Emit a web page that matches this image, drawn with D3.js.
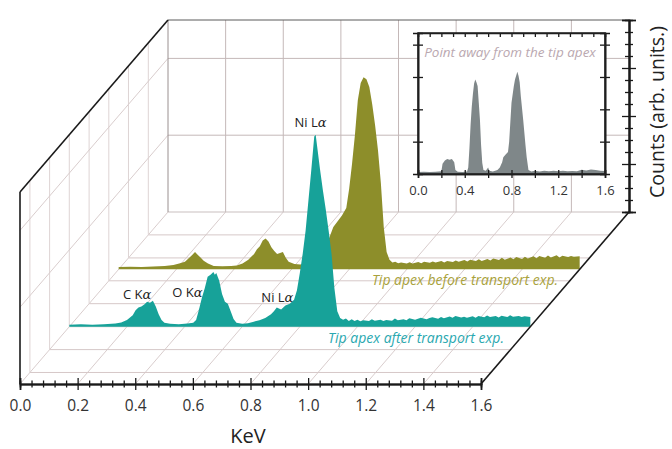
<!DOCTYPE html>
<html>
<head>
<meta charset="utf-8">
<script src="https://cdn.jsdelivr.net/npm/d3@7"></script>
<style>
  body { margin: 0; background: #fff; }
  svg { display: block; font-family: "Open Sans", sans-serif; }
</style>
</head>
<body>
<svg id="chart" width="672" height="449"></svg>
<script>
// EDX spectra, [energy keV, counts %]
const afterSpectrum = [
  [0.00,1.0],[0.04,1.2],[0.08,1.0],[0.12,1.3],[0.16,1.6],[0.18,2.2],[0.20,3.5],[0.22,6],[0.23,8.5],[0.24,10],
  [0.25,10.5],[0.26,11.5],[0.27,13],[0.28,12.5],[0.29,13.5],[0.30,10.5],[0.31,6.5],[0.32,3.5],[0.33,2],[0.35,1.5],
  [0.38,1.3],[0.41,1.6],[0.43,2],[0.44,3.5],[0.45,9],[0.46,15],[0.47,20],[0.48,26],[0.49,27],[0.50,28.5],
  [0.505,27],[0.51,28],[0.52,24],[0.53,17],[0.54,13],[0.55,12],[0.56,8],[0.57,4],[0.58,2],[0.60,1.5],
  [0.62,1.8],[0.64,2.6],[0.66,3.4],[0.68,4.5],[0.70,6.5],[0.71,8],[0.72,10],[0.735,9],[0.75,11],[0.765,12],
  [0.78,14],[0.79,19],[0.80,28],[0.81,38],[0.82,50],[0.83,66],[0.84,82],[0.85,99],[0.855,100],[0.86,94],
  [0.87,82],[0.88,71],[0.89,61],[0.90,50],[0.91,38],[0.92,20],[0.93,8],[0.94,4.5],[0.95,3.6],[0.96,4.2],
  [0.97,3],[0.98,3.8],[0.99,2.9],[1.00,3.6],[1.01,2.8],[1.02,3.4],[1.04,3],[1.05,3.8],[1.06,3.1],[1.08,3.6],
  [1.09,2.9],[1.10,3.5],[1.12,3.1],[1.13,4.2],[1.14,3.3],[1.16,3.9],[1.17,3.4],[1.18,4.4],[1.20,3.6],[1.21,4.1],
  [1.22,4.6],[1.24,3.8],[1.25,4.5],[1.26,4.9],[1.28,4.1],[1.29,5],[1.30,4.4],[1.32,5.3],[1.33,4.6],[1.34,5.5],
  [1.36,4.8],[1.37,5.2],[1.38,4.6],[1.40,5.4],[1.41,4.7],[1.42,5.6],[1.44,4.9],[1.45,5.8],[1.46,5],[1.48,5.5],
  [1.49,4.8],[1.50,5.7],[1.52,5.1],[1.53,5.9],[1.54,5.2],[1.56,5.6],[1.57,5],[1.58,5.4],[1.60,5.1]
];
const beforeSpectrum = [
  [0.00,1.2],[0.04,1.4],[0.08,1.2],[0.12,1.5],[0.16,1.8],[0.19,2.2],[0.21,3],[0.23,4],[0.245,6],[0.255,7.5],
  [0.265,9],[0.275,7.5],[0.285,6],[0.295,4.5],[0.31,3],[0.33,1.8],[0.36,1.6],[0.39,1.8],[0.41,2],[0.43,3],
  [0.45,5],[0.46,6.5],[0.47,8],[0.48,10.5],[0.49,12],[0.50,15],[0.51,16],[0.52,14.5],[0.53,11.5],[0.54,9.5],
  [0.55,8],[0.56,8.5],[0.57,9],[0.58,6],[0.59,4],[0.61,2.8],[0.63,2.5],[0.65,3.2],[0.67,2.6],[0.69,3],
  [0.71,4],[0.72,8],[0.73,16],[0.745,22],[0.76,25],[0.775,28],[0.79,32],[0.80,42],[0.81,55],[0.82,70],
  [0.83,88],[0.84,97],[0.85,100],[0.86,99],[0.87,95],[0.88,86],[0.89,75],[0.90,62],[0.91,45],[0.92,22],
  [0.93,9],[0.94,5],[0.95,3.6],[0.96,4],[0.97,3.2],[0.98,3.6],[1.00,3],[1.01,3.7],[1.02,3.1],[1.04,3.8],
  [1.05,3.2],[1.06,4],[1.08,3.4],[1.09,4.1],[1.10,3.5],[1.12,4.3],[1.13,3.6],[1.14,4.4],[1.16,3.8],[1.17,4.6],
  [1.18,3.9],[1.20,4.8],[1.21,4.1],[1.22,5],[1.24,4.3],[1.25,5.2],[1.26,4.4],[1.28,5.4],[1.29,4.6],[1.30,5.6],
  [1.32,4.8],[1.33,6],[1.34,5],[1.36,6.2],[1.37,5.2],[1.38,6.4],[1.40,5.4],[1.41,6.6],[1.42,5.6],[1.44,6.8],
  [1.45,5.8],[1.46,7],[1.48,6],[1.49,7.2],[1.50,6.1],[1.52,7.3],[1.53,6.2],[1.54,7.1],[1.56,6.4],[1.57,7],
  [1.58,6.5],[1.60,6.8]
];
const awaySpectrum = [
  [0.00,1.5],[0.05,1.8],[0.10,1.5],[0.15,1.8],[0.20,2.2],[0.21,8],[0.23,10.5],[0.25,11.5],[0.27,11],[0.29,11.5],
  [0.31,9],[0.32,3],[0.34,1.8],[0.38,1.6],[0.42,2],[0.43,5],[0.44,20],[0.45,38],[0.46,52],[0.47,62],
  [0.48,70],[0.49,73],[0.50,71],[0.51,68],[0.52,55],[0.53,42],[0.54,22],[0.55,8.5],[0.56,3],[0.58,2.5],
  [0.60,5],[0.61,2.5],[0.64,2],[0.68,3],[0.70,5],[0.72,9],[0.73,13],[0.75,15],[0.77,17],[0.78,25],
  [0.80,55],[0.82,68],[0.83,73],[0.85,79],[0.86,76],[0.87,71],[0.88,60],[0.90,42],[0.92,22],[0.93,13],
  [0.945,3],[0.97,2],[1.00,2.6],[1.04,2],[1.08,2.5],[1.12,2.1],[1.16,2.6],[1.20,2.2],[1.24,2.5],[1.28,2.1],
  [1.32,2.4],[1.36,2.2],[1.40,3.2],[1.44,2.8],[1.48,3.4],[1.52,3],[1.56,2.6],[1.60,2.4]
];

const majorTicks = [0, 0.2, 0.4, 0.6, 0.8, 1.0, 1.2, 1.4, 1.6];
const insetTicks = [0, 0.2, 0.4, 0.6, 0.8, 1.0, 1.2, 1.4, 1.6];
const insetLabels = ["0.0", "0.4", "0.8", "1.2", "1.6"];
const depthGrid = [0.067, 0.2, 0.333, 0.467, 0.6, 0.733, 0.867];
const heightGrid = [40, 80];
const peakLabels = [
  { text: "C K", x: 0.235, y: 14.2, d: 1 / 3 },
  { text: "O K", x: 0.41, y: 15.5, d: 1 / 3 },
  { text: "Ni L", x: 0.722, y: 13, d: 1 / 3 },
  { text: "Ni L", x: 0.837, y: 104, d: 1 / 3 }
];

const svg = d3.select("#chart");

// oblique projection: energy, counts, depth (0 front .. 1 back)
const x = d3.scaleLinear().domain([0, 1.6]).range([20, 481]);
const y = d3.scaleLinear().domain([0, 100]).range([384, 192]);
const shiftX = 148, shiftY = -172;
const px = (e, d) => x(e) + shiftX * d;
const py = (c, d) => y(c) + shiftY * d;

const grid = svg.append("g").attr("fill", "none").attr("stroke-width", 1);
function seg(e1, c1, d1, e2, c2, d2, color) {
  grid.append("line")
    .attr("x1", px(e1, d1)).attr("y1", py(c1, d1))
    .attr("x2", px(e2, d2)).attr("y2", py(c2, d2))
    .attr("stroke", color);
}

// floor
majorTicks.forEach(e => seg(e, 0, 0, e, 0, 1, "#d9cdcd"));
depthGrid.forEach(d => seg(0, 0, d, 1.6, 0, d, "#d6c8c8"));
// left wall
depthGrid.forEach(d => seg(0, 0, d, 0, 100, d, "#ded4d4"));
heightGrid.forEach(c => seg(0, c, 0, 0, c, 1, "#d9cdcd"));
// back wall
majorTicks.slice(1, -1).forEach(e => seg(e, 0, 1, e, 100, 1, "#c4b8b8"));
heightGrid.forEach(c => seg(0, c, 1, 1.6, c, 1, "#c4b8b8"));
seg(0, 0, 1, 1.6, 0, 1, "#c9bfbf");
seg(0, 0, 1, 0, 100, 1, "#9a9090");
seg(0, 100, 1, 1.6, 100, 1, "#5a5a5a");

// right counts axis on the back wall
const yBack = d3.scaleLinear().domain([0, 100]).range([py(0, 1), py(100, 1)]);
const backMajor = [0, 25, 50, 75, 100];
const backMinor = d3.range(0, 101, 6.25).filter(v => v % 25 !== 0);
[d3.axisRight, d3.axisLeft].forEach(ax => {
  svg.append("g").attr("transform", `translate(${px(1.6, 1)},0)`)
    .call(ax(yBack).tickValues(backMajor).tickSize(7).tickFormat(""));
  svg.append("g").attr("transform", `translate(${px(1.6, 1)},0)`)
    .call(ax(yBack).tickValues(backMinor).tickSize(4).tickFormat(""));
});
svg.selectAll("g path.domain").attr("stroke", "#222");

// inset
const xi = d3.scaleLinear().domain([0, 1.6]).range([418, 605]);
const yi = d3.scaleLinear().domain([0, 109]).range([174, 33]);
const inset = svg.append("g");
inset.append("rect").attr("x", 418).attr("y", 33).attr("width", 187).attr("height", 141).attr("fill", "#fff");
inset.append("path")
  .datum(awaySpectrum)
  .attr("fill", "#7f8789")
  .attr("d", d3.area().x(d => xi(d[0])).y0(yi(0)).y1(d => yi(d[1])));
inset.append("text")
  .attr("x", 510).attr("y", 57)
  .attr("text-anchor", "middle")
  .attr("font-size", 13.5).attr("font-style", "italic")
  .attr("fill", "#baa8b0")
  .text("Point away from the tip apex");
inset.append("g").attr("transform", "translate(0,174)")
  .call(d3.axisBottom(xi).tickValues(insetTicks).tickSize(4).tickPadding(8)
    .tickFormat(v => insetLabels.includes(v.toFixed(1)) ? v.toFixed(1) : ""));
inset.append("g").attr("transform", "translate(0,174)")
  .call(d3.axisTop(xi).tickValues(insetTicks).tickSize(4).tickFormat(""));
inset.append("g").attr("transform", "translate(0,33)")
  .call(d3.axisBottom(xi).tickValues(d3.range(0.1, 1.6, 0.1)).tickSize(4).tickFormat(""));
[[418, d3.axisLeft], [418, d3.axisRight], [605, d3.axisLeft], [605, d3.axisRight]].forEach(([tx, ax]) => {
  inset.append("g").attr("transform", `translate(${tx},0)`)
    .call(ax(yi).tickValues([25, 50, 75, 100]).tickSize(5).tickFormat(""));
});
inset.append("rect").attr("x", 418).attr("y", 33).attr("width", 187).attr("height", 141)
  .attr("fill", "none").attr("stroke", "#222").attr("stroke-width", 1.5);
inset.selectAll(".tick text").attr("font-size", 13).attr("fill", "#333").attr("font-family", "Open Sans");

// spectra, back one first
function spectrum(data, depth, color) {
  svg.append("path")
    .datum(data)
    .attr("fill", color)
    .attr("d", d3.area()
      .x(d => px(d[0], depth))
      .y0(py(0, depth))
      .y1(d => py(d[1], depth)));
}
spectrum(beforeSpectrum, 2 / 3, "#8d8e2a");
svg.append("text")
  .attr("x", 465).attr("y", 285).attr("text-anchor", "middle")
  .attr("font-size", 14).attr("font-style", "italic").attr("fill", "#a9a23c")
  .text("Tip apex before transport exp.");
spectrum(afterSpectrum, 1 / 3, "#17a299");
svg.append("text")
  .attr("x", 416).attr("y", 343).attr("text-anchor", "middle")
  .attr("font-size", 14).attr("font-style", "italic").attr("fill", "#2aa8b0")
  .text("Tip apex after transport exp.");

const lbl = svg.append("g").attr("font-size", 13).attr("fill", "#222").attr("text-anchor", "middle");
peakLabels.forEach(p => {
  const t = lbl.append("text").attr("x", px(p.x, p.d)).attr("y", py(p.y, p.d));
  t.append("tspan").text(p.text);
  t.append("tspan").attr("font-style", "italic").attr("font-family", "DejaVu Serif").text("α");
});

// frame
const frame = svg.append("g").attr("stroke", "#1a1a1a").attr("stroke-width", 1.6).attr("fill", "none");
[[0, 0, 0, 0, 100, 0], [0, 100, 0, 0, 100, 1], [1.6, 0, 0, 1.6, 0, 1]].forEach(s => {
  frame.append("line")
    .attr("x1", px(s[0], s[2])).attr("y1", py(s[1], s[2]))
    .attr("x2", px(s[3], s[5])).attr("y2", py(s[4], s[5]));
});

// front energy axis
const xMinor = d3.range(0, 1.6001, 0.04).filter(v => Math.abs(v * 5 - Math.round(v * 5)) > 1e-6);
svg.append("g").attr("class", "xaxis").attr("transform", "translate(0,384)")
  .call(d3.axisBottom(x).tickValues(majorTicks).tickSize(6).tickPadding(10).tickFormat(d3.format(".1f")));
svg.append("g").attr("transform", "translate(0,384)")
  .call(d3.axisTop(x).tickValues(majorTicks).tickSize(6).tickFormat(""));
[d3.axisTop, d3.axisBottom].forEach(ax => {
  svg.append("g").attr("transform", "translate(0,384)")
    .call(ax(x).tickValues(xMinor).tickSize(3.5).tickFormat(""));
});
svg.selectAll(".domain").attr("stroke", "#1a1a1a").attr("stroke-width", 1.6);
svg.selectAll(".tick line").attr("stroke", "#1a1a1a").attr("stroke-width", 1.3);
svg.selectAll(".xaxis .tick text").attr("font-size", 15.5).attr("fill", "#333").attr("font-family", "Open Sans");

svg.append("text")
  .attr("x", 248).attr("y", 443).attr("text-anchor", "middle")
  .attr("font-size", 20).attr("fill", "#222")
  .text("KeV");
svg.append("text")
  .attr("transform", "translate(664,112) rotate(-90)")
  .attr("text-anchor", "middle")
  .attr("font-size", 19.5).attr("fill", "#222")
  .text("Counts (arb. units.)");
</script>
</body>
</html>
